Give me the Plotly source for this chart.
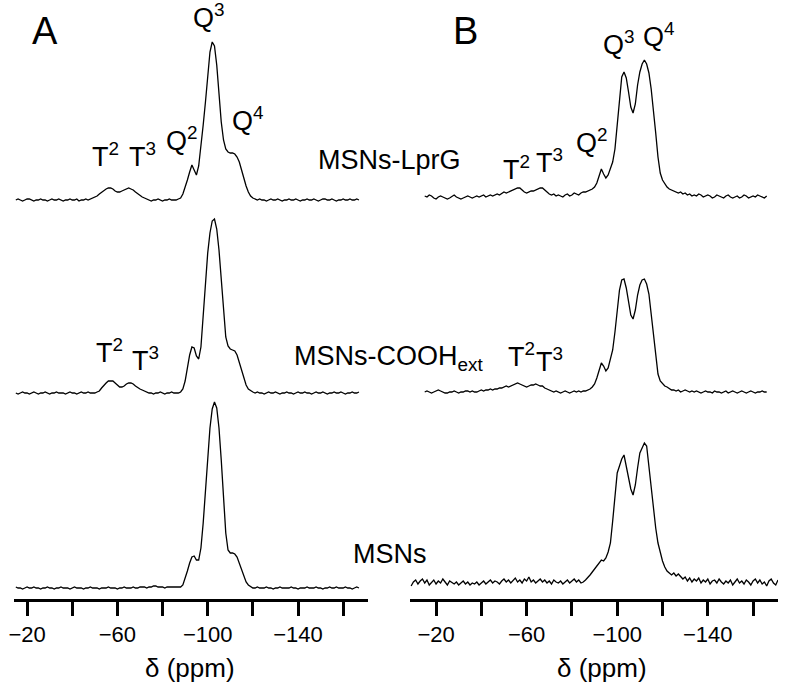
import plotly.graph_objects as go

# ---------------- data (heights above each spectrum's baseline) ----------------
ppm_a = list(range(-15, -168, -1))          # panel A sampling grid (ppm)
ppm_b = list(range(-15, -167, -1))          # panel B top / middle grid
ppm_b_msn = list(range(-9, -172, -1))       # panel B bottom grid

a_lprg = [
    0, 1, 0, -1, 0, 1, 1, 0, -1, 0,
    0, 1, 0, 0, -1, 0, 1, 0, 0, 1,
    0, -1, 0, 0, 1, 0, 0, 1, -1, 0,
    0, 1, 0, 1, 2, 3, 4, 6, 8, 10,
    11, 12, 12, 11, 9, 8, 8, 9, 10, 11,
    12, 11, 10, 8, 6, 5, 3, 2, 1, 0,
    -1, 0, 0, 1, 0, -1, 0, 0, 1, 0,
    0, 0, 1, 2, 6, 12, 20, 28, 35, 30,
    25, 34, 52, 75, 98, 128, 148, 158, 154, 135,
    105, 78, 60, 51, 48, 47, 47, 46, 43, 38,
    30, 21, 14, 8, 4, 2, 1, 0, 1, 0,
    0, -1, 0, 1, 0, 0, 1, 0, -1, 0,
    0, 1, 0, 0, 1, 0, -1, 0, 0, 1,
    0, 0, 1, 0, -1, 0, 1, 1, 0, 0,
    1, 0, -1, 0, 0, 1, 0, 0, 1, 0,
    0, 1, 0,
]

a_cooh = [
    0, -1, 0, 1, 0, 0, -1, 0, 1, 0,
    -1, 0, 0, 1, 0, -1, 0, 0, 1, 0,
    0, 0, -1, 0, 1, 0, 0, -1, 0, 1,
    0, 0, 1, 0, 0, 0, 1, 2, 5, 8,
    10, 12, 12, 12, 10, 8, 6, 6, 7, 9,
    10, 10, 9, 7, 5, 4, 3, 2, 1, 0,
    0, -1, 0, 0, 1, 0, -1, 0, 0, 1,
    0, 0, 0, 1, 4, 12, 25, 38, 46, 45,
    37, 34, 46, 80, 113, 140, 160, 172, 174, 164,
    143, 113, 80, 56, 47, 44, 43, 42, 38, 31,
    23, 15, 8, 4, 2, 1, 0, 1, 0, 0,
    -1, 0, 1, 0, 0, 1, 0, -1, 0, 0,
    1, 0, 0, -1, 0, 1, 0, 0, 1, 0,
    0, -1, 0, 1, 0, 0, 1, 0, -1, 0,
    0, 1, 0, 0, 1, 0, -1, 0, 0, 1,
    0, 0, 1,
]

a_msn = [
    1, 0, 0, -1, 0, 1, 0, 0, 1, 0,
    0, -1, 0, 0, 1, 0, 0, -1, 0, 0,
    1, 0, 0, 0, -1, 0, 1, 0, 0, 0,
    -1, 0, 0, 1, 0, 0, 0, -1, 0, 0,
    0, 1, 0, 0, 0, -1, 0, 0, 1, 0,
    0, 0, 1, 0, 0, 1, 1, 1, 0, 1,
    1, 2, 2, 1, 1, 1, 0, 1, 1, 1,
    1, 1, 1, 1, 3, 9, 17, 25, 31, 32,
    28, 28, 40, 65, 95, 128, 160, 179, 186, 180,
    160, 128, 90, 55, 38, 35, 35, 34, 31, 25,
    18, 11, 6, 3, 1, 0, 0, 1, 0, 0,
    0, 1, 0, 0, -1, 0, 0, 1, 0, 0,
    0, 0, 1, 0, 0, -1, 0, 0, 0, 1,
    0, 0, 0, 1, 0, 0, -1, 0, 0, 1,
    0, 0, 1, 0, 0, 0, 1, 0, 0, -1,
    0, 1, 0,
]

b_lprg = [
    1, 0, 2, 1, -1, -2, 0, 1, 0, -1,
    -2, -1, 1, 2, 0, -1, -2, -1, 0, 1,
    0, -1, 0, 1, 0, 1, 2, 0, 1, 2,
    1, 2, 3, 2, 4, 5, 4, 5, 6, 7,
    8, 9, 9, 7, 5, 4, 5, 6, 6, 7,
    8, 9, 9, 7, 5, 3, 2, 3, 1, 2,
    1, 0, 2, 3, 1, 2, 4, 3, 2, 4,
    5, 5, 6, 7, 8, 10, 14, 21, 28, 23,
    19, 22, 28, 35, 48, 72, 100, 120, 125, 119,
    105, 90, 84, 93, 112, 125, 133, 137, 133, 124,
    108, 88, 64, 40, 24, 17, 13, 10, 8, 7,
    6, 5, 4, 5, 3, 4, 2, 3, 1, 2,
    1, 3, 2, 0, 1, 2, 1, -1, 0, 2,
    1, 0, -1, 1, 2, 0, -1, 0, 1, -1,
    0, 2, 1, -1, 0, 1, 0, 2, 1, 0,
    -1, 1,
]

b_cooh = [
    0, 1, 0, -1, 0, 1, 2, 1, 0, -1,
    -1, 0, 0, 1, 0, -1, 0, 0, 1, 1,
    0, 1, 0, 0, 1, 2, 1, 2, 2, 3,
    2, 3, 3, 4, 4, 5, 6, 5, 6, 7,
    8, 9, 8, 7, 6, 5, 6, 7, 7, 8,
    7, 6, 6, 4, 3, 2, 1, 0, 1, 0,
    -1, 0, 1, 0, -1, 0, 1, 0, 1, 0,
    1, 1, 2, 3, 5, 8, 14, 23, 29, 26,
    21, 24, 32, 42, 60, 82, 102, 112, 113, 104,
    90, 77, 73, 82, 97, 107, 112, 113, 108, 98,
    78, 56, 33, 18, 11, 8, 6, 5, 3, 2,
    2, 1, 2, 0, 1, 2, 1, 0, 1, 0,
    1, 0, -1, 0, 1, 0, 0, -1, 1, 0,
    0, -1, 0, 1, -1, 0, 1, 0, -1, 0,
    1, 0, -1, 0, 1, 0, -1, 0, 0, 1,
    0, 0,
]

b_msn = [
    -3, 1, 3, -1, 2, 4, 0, 3, -2, 1,
    3, -1, 2, 0, 4, 1, -2, 2, 0, -1,
    1, -2, 0, 2, -1, 1, -2, 0, -1, 1,
    -2, 0, 2, -1, 1, 3, 0, 2, 1, -1,
    2, 4, 1, 3, 0, 2, 5, 1, 3, 0,
    4, 2, 6, 1, 3, 0, 2, 4, 1, 3,
    0, 2, -1, 3, 1, 0, 2, -1, 1, 3,
    0, 2, 4, 1, 3, 0, 1, 3, 5, 8,
    11, 14, 18, 21, 23, 22, 25, 31, 40, 62,
    88, 110, 117, 124, 128, 117, 105, 94, 88, 98,
    115, 130, 135, 140, 137, 115, 92, 73, 55, 40,
    30, 22, 16, 12, 10, 8, 10, 7, 9, 6,
    4, 6, 2, 5, 1, 4, 2, 5, 0, 3,
    1, 4, -1, 2, 3, 0, 4, 1, -1, 2,
    0, 3, -2, 1, 4, 0, 2, -1, 3, 1,
    -2, 2, 4, 0, 3, -1, 1, -3, 2, 4,
    0, -2, 3,
]

tick_vals = [-20, -40, -60, -80, -100, -120, -140, -160]
tick_text = ["\u221220", "", "\u221260", "", "\u2212100", "", "\u2212140", ""]

# ---------------- layout helpers ----------------
W, H = 789, 700
PLOT_BOTTOM = 599  # px position of the x axis line
FONT = "Liberation Sans, Arial, Helvetica, sans-serif"

def px(x):
    return x / W

def py(y):
    return (PLOT_BOTTOM - y) / PLOT_BOTTOM

fig = go.Figure()

line = dict(color="black", width=1.3)
traces = [
    (ppm_a, a_lprg, 399, "x"),
    (ppm_a, a_cooh, 206, "x"),
    (ppm_a, a_msn, 11, "x"),
    (ppm_b, b_lprg, 402, "x2"),
    (ppm_b, b_cooh, 207, "x2"),
    (ppm_b_msn, b_msn, 16, "x2"),
]
for xs, ys, off, xa in traces:
    fig.add_trace(go.Scatter(x=xs, y=[v + off for v in ys], mode="lines",
                             line=line, xaxis=xa, yaxis="y",
                             showlegend=False, hoverinfo="skip"))

axis_common = dict(
    showline=True, linecolor="black", linewidth=3,
    ticks="outside", ticklen=14, tickwidth=2.5, tickcolor="black",
    tickvals=tick_vals, ticktext=tick_text,
    tickfont=dict(family=FONT, size=22, color="black"),
    showgrid=False, zeroline=False, anchor="y", automargin=False,
)

fig.update_layout(
    width=W, height=H,
    margin=dict(l=0, r=0, t=0, b=H - PLOT_BOTTOM, pad=0, autoexpand=False),
    paper_bgcolor="white", plot_bgcolor="white",
    showlegend=False,
    xaxis=dict(domain=[px(14), px(368)], range=[-14.2, -171], **axis_common),
    xaxis2=dict(domain=[px(410), px(778)], range=[-8.5, -171], **axis_common),
    yaxis=dict(range=[0, PLOT_BOTTOM], visible=False, fixedrange=True, automargin=False),
)

annots = [
    # (text, x_px, y_px, size, xanchor)
    ("A", 45, 31, 38, "center"),
    ("B", 465, 31, 38, "center"),
    ("Q<sup>3</sup>", 209, 16, 27, "center"),
    ("Q<sup>2</sup>", 182, 139, 27, "center"),
    ("Q<sup>4</sup>", 248, 119, 27, "center"),
    ("T<sup>2</sup>", 105, 155, 27, "center"),
    ("T<sup>3</sup>", 142, 155, 27, "center"),
    ("MSNs-LprG", 316, 160, 27, "left"),
    ("T<sup>2</sup>", 110, 351, 27, "center"),
    ("T<sup>3</sup>", 145, 359, 27, "center"),
    ("MSNs-COOH<sub>ext</sub>", 292, 358, 27, "left"),
    ("MSNs", 351, 554, 27, "left"),
    ("Q<sup>3</sup>", 619, 43, 27, "center"),
    ("Q<sup>4</sup>", 659, 35, 27, "center"),
    ("Q<sup>2</sup>", 592, 141, 27, "center"),
    ("T<sup>2</sup>", 516, 168, 27, "center"),
    ("T<sup>3</sup>", 549, 161, 27, "center"),
    ("T<sup>2</sup>", 521, 355, 27, "center"),
    ("T<sup>3</sup>", 549, 360, 27, "center"),
    ("\u03b4 (ppm)", 190, 668, 26, "center"),
    ("\u03b4 (ppm)", 602, 668, 26, "center"),
]
for text, x, y, size, xa in annots:
    fig.add_annotation(text=text, x=px(x), y=py(y), xref="paper", yref="paper",
                       xanchor=xa, yanchor="middle", showarrow=False,
                       font=dict(family=FONT, size=size, color="black"))

# remove the browser's default 8px body margin so the figure sits at the page origin
fig.write_html("out.html", config={"displayModeBar": False},
               post_script="document.body.style.margin='0';")
